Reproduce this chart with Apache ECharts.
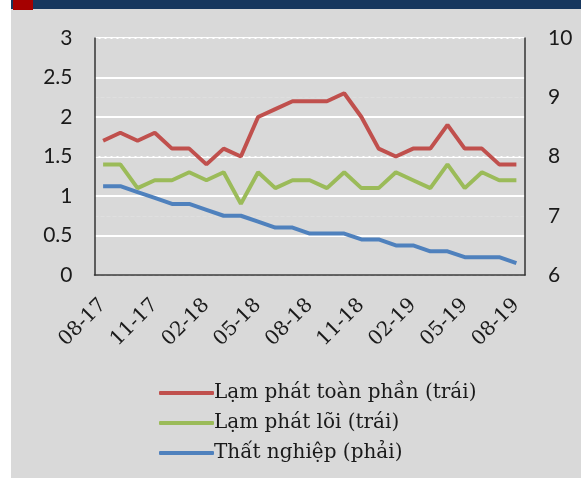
<!DOCTYPE html>
<html lang="vi">
<head>
    <meta charset="UTF-8">
    <title>Lạm phát và thất nghiệp</title>
    <script src="https://cdn.jsdelivr.net/npm/echarts@6/dist/echarts.min.js"></script>
    <style type="text/css">
        html, body { margin:0; padding:0; }
        #main{ width:581px; height:478px; }
    </style>
</head>
<body>
<div id="main"></div>
<script type="application/javascript">
    // months 08-17 .. 08-19
    var months = ['08-17','09-17','10-17','11-17','12-17','01-18','02-18','03-18','04-18',
        '05-18','06-18','07-18','08-18','09-18','10-18','11-18','12-18','01-19','02-19',
        '03-19','04-19','05-19','06-19','07-19','08-19'];
    var headline = [1.7,1.8,1.7,1.8,1.6,1.6,1.4,1.6,1.5,2.0,2.1,2.2,2.2,2.2,2.3,2.0,1.6,1.5,1.6,1.6,1.9,1.6,1.6,1.4,1.4];
    var core = [1.4,1.4,1.1,1.2,1.2,1.3,1.2,1.3,0.9,1.3,1.1,1.2,1.2,1.1,1.3,1.1,1.1,1.3,1.2,1.1,1.4,1.1,1.3,1.2,1.2];
    var unemployment = [7.5,7.5,7.4,7.3,7.2,7.2,7.1,7.0,7.0,6.9,6.8,6.8,6.7,6.7,6.7,6.6,6.6,6.5,6.5,6.4,6.4,6.3,6.3,6.3,6.2];
    var seriesNames = ['Lạm phát toàn phần (trái)', 'Lạm phát lõi (trái)', 'Thất nghiệp (phải)'];

    var myChart = echarts.init(document.getElementById('main'));

    var numFont = { fontFamily:'Lato', fontSize:21, color:'#1a1a1a' };

    myChart.setOption({
        backgroundColor:'#d9d9d9',
        animation:false,
        color:['#c0504d','#9bbb59','#4f81bd'],
        graphic:[
            { type:'rect', shape:{ x:0, y:0, width:11, height:478 }, style:{ fill:'#ffffff' } },
            { type:'rect', shape:{ x:11, y:0, width:570, height:9 }, style:{ fill:'#17375e' } },
            { type:'rect', shape:{ x:13, y:0, width:20, height:10 }, style:{ fill:'#a50000' } }
        ],
        grid:{ left:94.5, right:56, top:38, bottom:203 },
        legend:{
            orient:'vertical',
            left:154, top:377, height:97,
            icon:'roundRect',
            itemWidth:55, itemHeight:4, itemGap:8,
            textStyle:{ fontFamily:'DejaVu Serif', fontSize:20, lineHeight:22, color:'#1a1a1a', padding:[0,0,0,-5] },
            data:seriesNames
        },
        xAxis:{
            type:'category',
            data:months,
            boundaryGap:true,
            axisLine:{ lineStyle:{ color:'#333333', width:1.5 } },
            axisTick:{ interval:2, length:7, lineStyle:{ color:'#333333', width:1.5 } },
            axisLabel:{ interval:2, rotate:45, margin:27, fontFamily:'DejaVu Serif', fontSize:20, color:'#1a1a1a' },
            splitLine:{ show:false }
        },
        yAxis:[{
            type:'value', min:0, max:3, interval:0.5,
            axisLine:{ show:true, lineStyle:{ color:'#333333', width:1.5 } },
            axisTick:{ show:false },
            axisLabel:Object.assign({ margin:22 }, numFont),
            splitLine:{ lineStyle:{ color:'#ffffff', width:2 } }
        },{
            type:'value', min:6, max:10, interval:1,
            axisLine:{ show:true, lineStyle:{ color:'#333333', width:1.5 } },
            axisTick:{ show:false },
            axisLabel:Object.assign({ margin:23 }, numFont),
            splitLine:{ show:true, lineStyle:{ color:'#dfdfdf', width:1, type:'dashed' } }
        }],
        series:[{
            name:seriesNames[0], type:'line', yAxisIndex:0, data:headline,
            symbol:'none', lineStyle:{ width:4 }
        },{
            name:seriesNames[1], type:'line', yAxisIndex:0, data:core,
            symbol:'none', lineStyle:{ width:4 }
        },{
            name:seriesNames[2], type:'line', yAxisIndex:1, data:unemployment,
            symbol:'none', lineStyle:{ width:4 }
        }]
    });
</script>
</body>
</html>
